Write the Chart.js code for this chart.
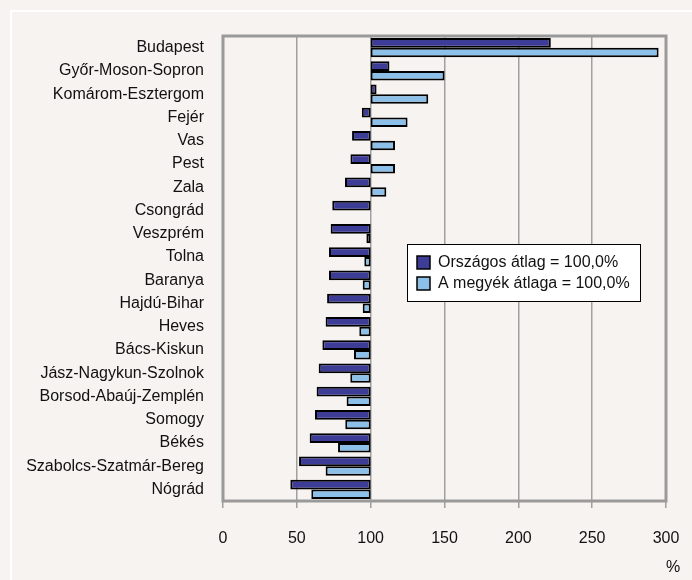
<!DOCTYPE html>
<html>
<head>
<meta charset="utf-8">
<script src="https://cdn.jsdelivr.net/npm/chart.js@4.4.1/dist/chart.umd.min.js"></script>
<style>
  body { margin: 0; background: #f6f3f0; }
  #wrap { position: relative; width: 692px; height: 580px; overflow: hidden; }
  #frame { position: absolute; left: 10px; top: 10px; width: 700px; height: 600px;
           border-left: 2px solid #ffffff; border-top: 2px solid #ffffff; }
  canvas { position: absolute; left: 0; top: 0; }
</style>
</head>
<body>
<div id="wrap">
  <div id="frame"></div>
  <canvas id="plot_1" width="692" height="580"></canvas>
</div>
<script>
const megyek = ['Budapest', 'Győr-Moson-Sopron', 'Komárom-Esztergom', 'Fejér', 'Vas', 'Pest', 'Zala',
  'Csongrád', 'Veszprém', 'Tolna', 'Baranya', 'Hajdú-Bihar', 'Heves', 'Bács-Kiskun',
  'Jász-Nagykun-Szolnok', 'Borsod-Abaúj-Zemplén', 'Somogy', 'Békés', 'Szabolcs-Szatmár-Bereg', 'Nógrád'];

// Országos átlag = 100,0%
const orszagos = [222, 112.7, 104, 94, 87.4, 86.3, 82.6, 74, 72.9, 71.8, 71.8, 70.5, 69.5, 67.3, 64.8, 63.4, 62.3, 58.7, 51.5, 45.6];
// A megyék átlaga = 100,0%
const megyei = [295, 150, 139, 125, 116.5, 116.5, 110.6, 100, 97.1, 95.7, 94.6, 94.6, 92.3, 88.7, 86.2, 83.7, 82.8, 77.9, 69.5, 59.8];

const labelOrszagos = 'Országos átlag = 100,0%';
const labelMegyei = 'A megyék átlaga = 100,0%';
const xTicks = [0, 50, 100, 150, 200, 250, 300];

const FONT = "'Liberation Sans', Arial, sans-serif";
const plot_1 = document.getElementById('plot_1');

// keret + jelmagyarázat + % felirat
const keret = {
    id: 'keret',
    afterDatasetsDraw(chart) {
        const ctx = chart.ctx;
        const a = chart.chartArea;
        ctx.save();
        ctx.strokeStyle = '#9a9a9a';
        ctx.lineWidth = 3;
        ctx.strokeRect(a.left, a.top, a.right - a.left, a.bottom - a.top);

        // legend box
        const lx = a.left + 184, ly = a.top + 208, lw = 233, lh = 57;
        ctx.fillStyle = '#ffffff';
        ctx.fillRect(lx, ly, lw, lh);
        ctx.strokeStyle = '#000000';
        ctx.lineWidth = 1;
        ctx.strokeRect(lx + 0.5, ly + 0.5, lw, lh);
        ctx.font = '16px ' + FONT;
        ctx.textBaseline = 'middle';
        chart.data.datasets.forEach((ds, i) => {
            const cy = ly + 18 + i * 21;
            ctx.fillStyle = ds.backgroundColor;
            ctx.fillRect(lx + 10, cy - 6, 13, 13);
            ctx.strokeStyle = '#000000';
            ctx.lineWidth = 1.5;
            ctx.strokeRect(lx + 10, cy - 6, 13, 13);
            ctx.fillStyle = '#111111';
            ctx.fillText(ds.label, lx + 31, cy + 1);
        });

        ctx.fillStyle = '#111111';
        ctx.textAlign = 'center';
        ctx.fillText('%', a.right + 7, 568);
        ctx.restore();
    }
};

const adatok = {
    type: 'bar',
    data: {
        labels: megyek,
        datasets: [
            {
                label: labelOrszagos,
                backgroundColor: '#3d3d98',
                borderColor: '#000000',
                borderWidth: 2,
                borderSkipped: false,
                data: orszagos.map(v => [100, v])
            },
            {
                label: labelMegyei,
                backgroundColor: '#8cc0e8',
                borderColor: '#000000',
                borderWidth: 2,
                borderSkipped: false,
                data: megyei.map(v => [100, v])
            }
        ]
    },
    options: {
        indexAxis: 'y',
        responsive: false,
        animation: false,
        devicePixelRatio: 1,
        layout: { padding: { left: 0, top: 36, right: 26, bottom: 0 } },
        categoryPercentage: 0.82,
        barPercentage: 1,
        plugins: {
            legend: { display: false },
            tooltip: { enabled: false }
        },
        scales: {
            x: {
                min: 0,
                max: 300,
                afterBuildTicks: (s) => { s.ticks = xTicks.map(v => ({ value: v })); },
                afterFit: (s) => { s.height = 79; s.paddingLeft = 0; s.paddingRight = 0; },
                border: { display: false },
                grid: { color: '#a0a0a0', lineWidth: 1.5, tickLength: 7 },
                ticks: { color: '#111111', padding: 21, font: { family: FONT, size: 16 } }
            },
            y: {
                afterFit: (s) => { s.width = 223; s.paddingTop = 0; s.paddingBottom = 0; },
                border: { display: false },
                grid: { display: false, drawTicks: false },
                ticks: { color: '#111111', padding: 19, autoSkip: false, font: { family: FONT, size: 16 } }
            }
        }
    },
    plugins: [keret]
};

const grafikon = new Chart(plot_1, adatok);
</script>
</body>
</html>
